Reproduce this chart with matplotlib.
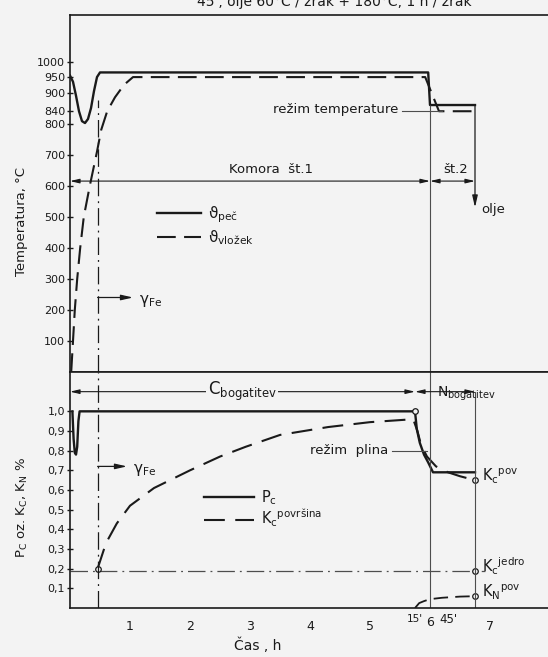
import matplotlib
matplotlib.use("Agg")
import matplotlib.pyplot as plt

plt.rcParams["font.family"] = "DejaVu Sans"
plt.rcParams["mathtext.fontset"] = "dejavusans"
plt.rcParams["mathtext.default"] = "regular"

BG = "#f3f3f3"
INK = "#1a1a1a"
THIN = "#4d4d4d"

# ---- zgornji diagram: temperatura ----
t_pec = [0.0, 0.05, 0.1, 0.15, 0.2, 0.25, 0.3, 0.35, 0.4, 0.45, 0.5, 5.97, 6.0, 6.75]
T_pec = [955, 935, 890, 840, 808, 802, 815, 850, 905, 950, 965, 965, 860, 860]
t_vlozek = [0.02, 0.08, 0.12, 0.17, 0.23, 0.33, 0.45, 0.52, 0.62, 0.75, 0.9, 1.05, 5.92, 6.15, 6.75]
T_vlozek = [0, 200, 300, 400, 500, 600, 710, 780, 840, 885, 925, 950, 950, 840, 840]
T_ticks = [100, 200, 300, 400, 500, 600, 700, 800, 840, 900, 950, 1000]
T_komora = 615
T_rezim = 842
T_olje = 530
T_gamma = 240

# ---- spodnji diagram: ogljik / dusik ----
t_pc = [0.04, 0.06, 0.08, 0.10, 0.12, 0.14, 0.16, 5.75, 5.78, 5.83, 5.9, 5.97, 6.05, 6.75]
P_c = [1.0, 0.86, 0.79, 0.78, 0.82, 0.95, 1.0, 1.0, 0.91, 0.84, 0.78, 0.74, 0.69, 0.69]
t_kc = [0.46, 0.6, 0.78, 1.0, 1.4, 2.0, 2.5, 2.93, 3.5, 4.3, 5.0, 5.72, 5.79, 5.85, 5.95, 6.1, 6.3, 6.5, 6.75]
Kc_pov = [0.2, 0.33, 0.43, 0.52, 0.61, 0.70, 0.77, 0.82, 0.88, 0.92, 0.945, 0.96, 0.9, 0.83, 0.77, 0.72, 0.69, 0.67, 0.65]
t_kn = [5.75, 5.82, 5.9, 6.0, 6.2, 6.5, 6.75]
Kn_pov = [0.0, 0.025, 0.035, 0.045, 0.052, 0.058, 0.06]
Kc_jedro = 0.19
P_gamma = 0.72
P_bog = 1.1
P_rezim = 0.8
p_ticks = [0.1, 0.2, 0.3, 0.4, 0.5, 0.6, 0.7, 0.8, 0.9, 1.0]
p_labels = ["0,1", "0,2", "0,3", "0,4", "0,5", "0,6", "0,7", "0,8", "0,9", "1,0"]
t_ticks = [1, 2, 3, 4, 5, 7]

t_gamma = 0.46
t_15 = 5.75
t_6 = 6.0
t_45 = 6.75

W, H = 548, 657
fig = plt.figure(figsize=(W / 100, H / 100), dpi=100, facecolor=BG)


def box(x0, y0, x1, y1):
    return fig.add_axes([x0 / W, 1 - y1 / H, (x1 - x0) / W, (y1 - y0) / H])


ax1 = box(70, 15, 548, 372)
ax2 = box(70, 372, 548, 608)
for ax in (ax1, ax2):
    ax.set_facecolor(BG)
    ax.set_xlim(0, 478 / 60)
    ax.spines["right"].set_visible(False)
    for s in ("left", "top", "bottom"):
        ax.spines[s].set_color(INK)
        ax.spines[s].set_linewidth(1.2)

dashdot = (0, (14, 4, 1.5, 4))


def dim(ax, x0, x1, y):
    ax.annotate("", xy=(x0, y), xytext=(x1, y),
                arrowprops=dict(arrowstyle="<|-|>,head_length=0.55,head_width=0.13",
                                color=INK, lw=0.8, shrinkA=0, shrinkB=0))


def arrow(ax, x0, y0, x1, y1):
    ax.annotate("", xy=(x1, y1), xytext=(x0, y0),
                arrowprops=dict(arrowstyle="-|>,head_length=0.7,head_width=0.16",
                                color=INK, lw=0.9, shrinkA=0, shrinkB=0))


# ---------- zgoraj ----------
ax1.set_ylim(0, 1150)
ax1.plot(t_pec, T_pec, color=INK, lw=1.7, label="ϑ$_{peč}$")
ax1.plot(t_vlozek, T_vlozek, color=INK, lw=1.5, dashes=(9, 4), label="ϑ$_{vložek}$")
ax1.vlines(t_6, 0, T_pec[-1], color=THIN, lw=0.8)
ax1.vlines(t_gamma, 0, 875, color=INK, lw=0.9, linestyles=[dashdot])
dim(ax1, 0, t_6, T_komora)
dim(ax1, t_6, t_45, T_komora)
arrow(ax1, t_45, T_pec[-1], t_45, T_olje)
arrow(ax1, t_gamma, T_gamma, 1.05, T_gamma)
ax1.plot([5.53, 6.2], [T_rezim, T_rezim], color=THIN, lw=0.8)

ax1.text(3.35, T_komora + 15, "Komora  št.1", ha="center", va="bottom", fontsize=9.5, color=INK)
ax1.text(6.43, T_komora + 15, "št.2", ha="center", va="bottom", fontsize=9.5, color=INK)
ax1.text(5.47, T_rezim + 5, "režim temperature", ha="right", va="center", fontsize=9.5, color=INK)
ax1.text(6.85, T_olje - 5, "olje", ha="left", va="center", fontsize=9.5, color=INK)
ax1.text(1.15, T_gamma - 10, "γ$_{Fe}$", ha="left", va="center", fontsize=11, color=INK)

ax1.set_yticks(T_ticks)
ax1.set_yticklabels([str(v) for v in T_ticks])
ax1.set_xticks([])
ax1.tick_params(axis="y", direction="inout", length=5, width=1, pad=1, labelsize=8, colors=INK)
ax1.legend(loc="upper left", bbox_to_anchor=(0.165, 0.49), frameon=False, fontsize=11,
           handlelength=2.9, handletextpad=0.45, labelspacing=0.2, borderpad=0, labelcolor=INK)
fig.text(22 / W, 1 - 222 / H, "Temperatura, °C", rotation=90, ha="center", va="center",
         fontsize=9.5, color=INK)

# ---------- spodaj ----------
ax2.set_ylim(0, 1.2)
ax2.plot(t_pc, P_c, color=INK, lw=1.7, label="P$_c$")
ax2.plot(t_kc, Kc_pov, color=INK, lw=1.5, dashes=(10, 5), label="K$_c$$^{površina}$")
ax2.plot(t_kn, Kn_pov, color=INK, lw=1.3, dashes=(8, 4))
ax2.plot([0, 6.92], [Kc_jedro, Kc_jedro], color=THIN, lw=0.9, linestyle=dashdot)
ax2.plot([t_gamma, t_45, t_45, t_45, t_15], [Kc_pov[0], Kc_pov[-1], Kc_jedro, Kn_pov[-1], P_c[7]],
         linestyle="none", marker="o", ms=4, mfc=BG, mec=INK, mew=0.9)
ax2.axvline(t_6, color=THIN, lw=0.8)
ax2.vlines(t_45, 0, P_bog, color=THIN, lw=0.8)
ax2.axvline(t_gamma, color=INK, lw=0.9, linestyle=dashdot)
dim(ax2, 0, t_15, P_bog)
dim(ax2, t_15, t_45, P_bog)
arrow(ax2, t_gamma, P_gamma, 0.95, P_gamma)
ax2.plot([5.37, 5.95], [P_rezim, P_rezim], color=THIN, lw=0.8)

ax2.text(2.87, P_bog, "C$_{bogatitev}$", ha="center", va="center", fontsize=12, color=INK,
         bbox=dict(facecolor=BG, edgecolor="none", pad=1))
ax2.text(6.12, P_bog - 0.01, "N$_{bogatitev}$", ha="left", va="center", fontsize=10, color=INK)
ax2.text(5.3, P_rezim, "režim  plina", ha="right", va="center", fontsize=9.5, color=INK)
ax2.text(1.05, P_gamma - 0.02, "γ$_{Fe}$", ha="left", va="center", fontsize=11, color=INK)
ax2.text(6.87, Kc_pov[-1] + 0.02, "K$_c$$^{pov}$", ha="left", va="center", fontsize=10.5, color=INK)
ax2.text(6.87, Kc_jedro + 0.02, "K$_c$$^{jedro}$", ha="left", va="center", fontsize=10.5, color=INK)
ax2.text(6.87, Kn_pov[-1] + 0.02, "K$_N$$^{pov}$", ha="left", va="center", fontsize=10.5, color=INK)

ax2.set_yticks(p_ticks)
ax2.set_yticklabels(p_labels)
ax2.set_xticks(t_ticks)
ax2.set_xticklabels([str(v) for v in t_ticks])
ax2.tick_params(axis="y", direction="inout", length=5, width=1, pad=1, labelsize=8, colors=INK)
ax2.tick_params(axis="x", length=0, pad=9, labelsize=9, colors=INK)
xt = ax2.get_xaxis_transform()
ax2.text(t_15, -0.045, "15'", transform=xt, ha="center", va="center", fontsize=7.5, color=INK)
ax2.text(t_6, -0.06, "6", transform=xt, ha="center", va="center", fontsize=9, color=INK)
ax2.text(6.3, -0.05, "45'", transform=xt, ha="center", va="center", fontsize=8.5, color=INK)
ax2.legend(loc="upper left", bbox_to_anchor=(0.265, 0.54), frameon=False, fontsize=10.5,
           handlelength=3.4, handletextpad=0.5, labelspacing=0.05, borderpad=0, labelcolor=INK)
fig.text(258 / W, 1 - 645 / H, "Čas , h", ha="center", va="center", fontsize=10, color=INK)
fig.text(22 / W, 1 - 508 / H, "P$_C$ oz. K$_C$, K$_N$ %", rotation=90, ha="center", va="center",
         fontsize=9.5, color=INK)

# naslov, ki je na vrhu odrezan
fig.text(334 / W, 1 - 6 / H, "45', olje 60°C / zrak + 180°C, 1 h / zrak", ha="center",
         va="baseline", fontsize=10, color=INK)

fig.savefig("out.png", dpi=100, facecolor=BG)
